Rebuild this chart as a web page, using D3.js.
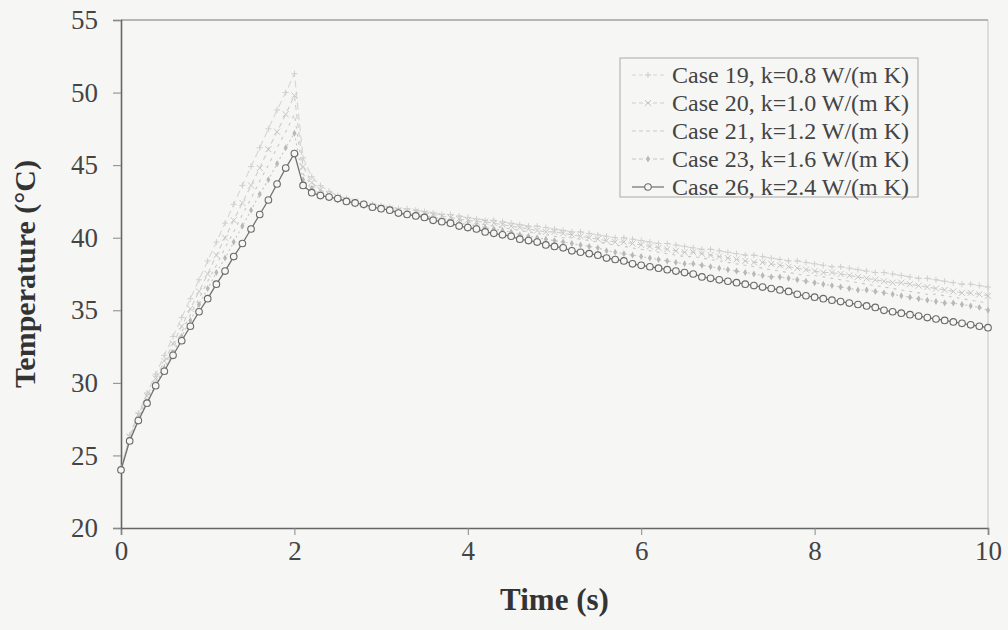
<!DOCTYPE html>
<html>
<head>
<meta charset="utf-8">
<script src="https://cdn.jsdelivr.net/npm/d3@7"></script>
<style>
  html, body { margin: 0; padding: 0; background: #f6f6f4; }
  svg { display: block; font-family: 'Liberation Serif', 'DejaVu Serif', serif; }
</style>
</head>
<body>
<div id="chart"></div>
<script>
const time = [
  0, 0.1, 0.2, 0.3, 0.4, 0.5, 0.6, 0.7, 0.8, 0.9,
  1, 1.1, 1.2, 1.3, 1.4, 1.5, 1.6, 1.7, 1.8, 1.9,
  2, 2.1, 2.2, 2.3, 2.4, 2.5, 2.6, 2.7, 2.8, 2.9,
  3, 3.1, 3.2, 3.3, 3.4, 3.5, 3.6, 3.7, 3.8, 3.9,
  4, 4.1, 4.2, 4.3, 4.4, 4.5, 4.6, 4.7, 4.8, 4.9,
  5, 5.1, 5.2, 5.3, 5.4, 5.5, 5.6, 5.7, 5.8, 5.9,
  6, 6.1, 6.2, 6.3, 6.4, 6.5, 6.6, 6.7, 6.8, 6.9,
  7, 7.1, 7.2, 7.3, 7.4, 7.5, 7.6, 7.7, 7.8, 7.9,
  8, 8.1, 8.2, 8.3, 8.4, 8.5, 8.6, 8.7, 8.8, 8.9,
  9, 9.1, 9.2, 9.3, 9.4, 9.5, 9.6, 9.7, 9.8, 9.9,
  10
]

const case19 = [
  24.0, 26.4, 27.9, 29.3, 30.6, 31.9, 33.2, 34.5, 35.8, 37.1,
  38.4, 39.7, 41.0, 42.3, 43.6, 44.9, 46.2, 47.5, 48.8, 50.0,
  51.3, 45.5, 44.2, 43.6, 43.2, 42.9, 42.7, 42.5, 42.4, 42.3,
  42.2, 42.1, 42.0, 42.0, 41.9, 41.8, 41.7, 41.6, 41.6, 41.5,
  41.4, 41.3, 41.2, 41.2, 41.1, 41.0, 40.9, 40.8, 40.8, 40.7,
  40.6, 40.5, 40.4, 40.4, 40.3, 40.2, 40.1, 40.0, 40.0, 39.9,
  39.8, 39.7, 39.6, 39.6, 39.5, 39.4, 39.3, 39.2, 39.2, 39.1,
  39.0, 38.9, 38.8, 38.8, 38.7, 38.6, 38.5, 38.4, 38.4, 38.3,
  38.2, 38.1, 38.0, 38.0, 37.9, 37.8, 37.7, 37.6, 37.6, 37.5,
  37.4, 37.3, 37.2, 37.2, 37.1, 37.0, 36.9, 36.8, 36.8, 36.7,
  36.6
]

const case20 = [
  24.0, 26.3, 27.8, 29.1, 30.3, 31.5, 32.7, 33.9, 35.1, 36.3,
  37.5, 38.8, 40.0, 41.2, 42.4, 43.6, 44.8, 46.1, 47.3, 48.5,
  49.8, 44.9, 43.8, 43.3, 43.0, 42.8, 42.6, 42.5, 42.3, 42.2,
  42.1, 42.0, 41.9, 41.8, 41.8, 41.7, 41.6, 41.5, 41.4, 41.3,
  41.2, 41.1, 41.1, 41.0, 40.9, 40.8, 40.7, 40.6, 40.5, 40.4,
  40.4, 40.3, 40.2, 40.1, 40.0, 39.9, 39.8, 39.7, 39.7, 39.6,
  39.5, 39.4, 39.3, 39.2, 39.1, 39.0, 39.0, 38.9, 38.8, 38.7,
  38.6, 38.5, 38.4, 38.3, 38.3, 38.2, 38.1, 38.0, 37.9, 37.8,
  37.7, 37.6, 37.6, 37.5, 37.4, 37.3, 37.2, 37.1, 37.0, 36.9,
  36.9, 36.8, 36.7, 36.6, 36.5, 36.4, 36.3, 36.2, 36.2, 36.1,
  36.0
]

const case21 = [
  24.0, 26.2, 27.7, 28.9, 30.1, 31.2, 32.4, 33.5, 34.7, 35.8,
  37.0, 38.1, 39.3, 40.4, 41.6, 42.7, 43.9, 45.0, 46.2, 47.3,
  48.5, 44.4, 43.6, 43.2, 42.9, 42.7, 42.5, 42.4, 42.3, 42.1,
  42.0, 41.9, 41.8, 41.7, 41.6, 41.5, 41.4, 41.3, 41.3, 41.2,
  41.1, 41.0, 40.9, 40.8, 40.7, 40.6, 40.5, 40.4, 40.3, 40.2,
  40.1, 40.0, 40.0, 39.9, 39.8, 39.7, 39.6, 39.5, 39.4, 39.3,
  39.2, 39.1, 39.0, 38.9, 38.8, 38.7, 38.7, 38.6, 38.5, 38.4,
  38.3, 38.2, 38.1, 38.0, 37.9, 37.8, 37.7, 37.6, 37.5, 37.4,
  37.4, 37.3, 37.2, 37.1, 37.0, 36.9, 36.8, 36.7, 36.6, 36.5,
  36.4, 36.3, 36.2, 36.1, 36.1, 36.0, 35.9, 35.8, 35.7, 35.6,
  35.5
]

const case23 = [
  24.0, 26.1, 27.5, 28.7, 29.9, 31.0, 32.1, 33.2, 34.3, 35.4,
  36.5, 37.6, 38.6, 39.7, 40.8, 41.9, 43.0, 44.0, 45.1, 46.2,
  47.2, 44.0, 43.4, 43.0, 42.8, 42.6, 42.5, 42.3, 42.2, 42.1,
  42.0, 41.9, 41.8, 41.7, 41.6, 41.5, 41.3, 41.2, 41.1, 41.0,
  40.9, 40.8, 40.7, 40.6, 40.5, 40.4, 40.2, 40.1, 40.0, 39.9,
  39.8, 39.7, 39.6, 39.5, 39.4, 39.3, 39.1, 39.0, 38.9, 38.8,
  38.7, 38.6, 38.5, 38.4, 38.3, 38.2, 38.2, 38.1, 38.0, 37.9,
  37.8, 37.7, 37.6, 37.5, 37.4, 37.3, 37.3, 37.2, 37.1, 37.0,
  36.9, 36.8, 36.7, 36.6, 36.5, 36.4, 36.4, 36.3, 36.2, 36.1,
  36.0, 35.9, 35.8, 35.7, 35.6, 35.5, 35.5, 35.4, 35.3, 35.2,
  35.0
]

const case26 = [
  24.0, 26.0, 27.4, 28.6, 29.8, 30.8, 31.9, 32.9, 33.9, 34.9,
  35.8, 36.8, 37.7, 38.7, 39.6, 40.6, 41.6, 42.6, 43.7, 44.8,
  45.8, 43.6, 43.1, 42.9, 42.8, 42.7, 42.5, 42.4, 42.3, 42.1,
  42.0, 41.9, 41.7, 41.6, 41.5, 41.4, 41.2, 41.1, 41.0, 40.8,
  40.7, 40.6, 40.4, 40.3, 40.2, 40.1, 39.9, 39.8, 39.7, 39.5,
  39.4, 39.3, 39.1, 39.0, 38.9, 38.8, 38.6, 38.5, 38.4, 38.2,
  38.1, 38.0, 37.9, 37.8, 37.7, 37.6, 37.5, 37.3, 37.2, 37.1,
  37.0, 36.9, 36.8, 36.7, 36.6, 36.5, 36.4, 36.3, 36.1, 36.0,
  35.9, 35.8, 35.7, 35.6, 35.5, 35.4, 35.3, 35.2, 35.0, 34.9,
  34.8, 34.7, 34.6, 34.5, 34.4, 34.3, 34.2, 34.1, 34.0, 33.9,
  33.8
]

const labels = [
  'Case 19, k=0.8 W/(m K)',
  'Case 20, k=1.0 W/(m K)',
  'Case 21, k=1.2 W/(m K)',
  'Case 23, k=1.6 W/(m K)',
  'Case 26, k=2.4 W/(m K)'
]
const xTicks = [0, 2, 4, 6, 8, 10]
const yTicks = [20, 25, 30, 35, 40, 45, 50, 55]

// looks for each series, same order as labels
const styles = [
  { values: case19, stroke: '#d6d6d6', dash: '7,4', marker: 'plus', color: '#cfcfcf' },
  { values: case20, stroke: '#cdcdcd', dash: '5,4', marker: 'cross', color: '#c6c6c6' },
  { values: case21, stroke: '#c8c8c8', dash: '3,5', marker: 'none', color: '#c4c4c4' },
  { values: case23, stroke: '#c6c6c6', dash: '2,3', marker: 'diamond', color: '#b8b8b8' },
  { values: case26, stroke: '#707070', dash: null, marker: 'circle', color: '#6a6a6a' }
]

const width = 1008
const height = 630
const margin = { top: 20, right: 20, bottom: 102, left: 121 }

const svg = d3.select('#chart').append('svg')
  .attr('width', width)
  .attr('height', height)

svg.append('rect')
  .attr('width', width)
  .attr('height', height)
  .attr('fill', '#f6f6f4')

const x = d3.scaleLinear().domain([0, 10]).range([margin.left, width - margin.right])
const y = d3.scaleLinear().domain([20, 55]).range([height - margin.bottom, margin.top])

// frame
svg.append('line')
  .attr('x1', x(0)).attr('x2', x(10))
  .attr('y1', y(55)).attr('y2', y(55))
  .attr('stroke', '#777').attr('stroke-width', 1.2)
svg.append('line')
  .attr('x1', x(10)).attr('x2', x(10))
  .attr('y1', y(55)).attr('y2', y(20))
  .attr('stroke', '#c4c4c4').attr('stroke-width', 1)

const xAxis = svg.append('g')
  .attr('transform', `translate(0,${y(20)})`)
  .call(d3.axisBottom(x).tickValues(xTicks).tickSize(7).tickPadding(6))
const yAxis = svg.append('g')
  .attr('transform', `translate(${x(0)},0)`)
  .call(d3.axisLeft(y).tickValues(yTicks).tickSize(8).tickPadding(15))

;[xAxis, yAxis].forEach((g) => {
  g.select('.domain').attr('stroke', '#666').attr('stroke-width', 1.6)
  g.selectAll('.tick line').attr('stroke', '#888')
  g.selectAll('.tick text')
    .attr('fill', '#444')
    .style('font-size', '27px')
    .style('font-family', 'Liberation Serif, serif')
})

// series
const line = d3.line()
  .x((d, i) => x(time[i]))
  .y((d) => y(d))

const plot = svg.append('g')

styles.forEach((s) => {
  plot.append('path')
    .datum(s.values)
    .attr('fill', 'none')
    .attr('stroke', s.stroke)
    .attr('stroke-width', s.dash ? 1.1 : 1.3)
    .attr('stroke-dasharray', s.dash)
    .attr('d', line)
  drawMarkers(plot, s, s.values.map((v, i) => [x(time[i]), y(v)]))
})

function drawMarkers(g, s, pts) {
  const sel = g.append('g').selectAll('path').data(pts).enter()
  if (s.marker === 'circle') {
    sel.append('circle')
      .attr('cx', (d) => d[0]).attr('cy', (d) => d[1])
      .attr('r', 3.3)
      .attr('fill', '#f6f6f4')
      .attr('stroke', s.color)
      .attr('stroke-width', 1.1)
  } else if (s.marker === 'diamond') {
    sel.append('path')
      .attr('d', d3.symbol(d3.symbolDiamond, 14)())
      .attr('transform', (d) => `translate(${d[0]},${d[1]})`)
      .attr('fill', s.color)
  } else if (s.marker === 'plus') {
    sel.append('path')
      .attr('d', 'M-3,0H3M0,-3V3')
      .attr('transform', (d) => `translate(${d[0]},${d[1]})`)
      .attr('stroke', s.color)
      .attr('fill', 'none')
  } else if (s.marker === 'cross') {
    sel.append('path')
      .attr('d', 'M-3,-3L3,3M-3,3L3,-3')
      .attr('transform', (d) => `translate(${d[0]},${d[1]})`)
      .attr('stroke', s.color)
      .attr('fill', 'none')
  }
}

// legend
const legend = svg.append('g').attr('transform', 'translate(620,58)')
legend.append('rect')
  .attr('width', 298)
  .attr('height', 139)
  .attr('fill', '#f6f6f4')
  .attr('stroke', '#aaa')
  .attr('stroke-width', 1)

labels.forEach((label, i) => {
  const s = styles[i]
  const row = legend.append('g').attr('transform', `translate(0,${17 + i * 28})`)
  row.append('line')
    .attr('x1', 12).attr('x2', 44)
    .attr('stroke', s.stroke)
    .attr('stroke-width', 1.2)
    .attr('stroke-dasharray', s.dash ? '4,3' : null)
  drawMarkers(row, s, [[28, 0]])
  row.append('text')
    .attr('x', 52)
    .attr('dy', '0.35em')
    .attr('fill', '#444')
    .style('font-size', '24px')
    .text(label)
})

// axis titles
svg.append('text')
  .attr('x', x(5))
  .attr('y', 610)
  .attr('text-anchor', 'middle')
  .attr('fill', '#333')
  .style('font-size', '31px')
  .style('font-weight', 'bold')
  .text('Time (s)')

svg.append('text')
  .attr('transform', `translate(35,${(y(20) + y(55)) / 2}) rotate(-90)`)
  .attr('text-anchor', 'middle')
  .attr('fill', '#333')
  .style('font-size', '30px')
  .style('font-weight', 'bold')
  .text('Temperature (°C)')
</script>
</body>
</html>
